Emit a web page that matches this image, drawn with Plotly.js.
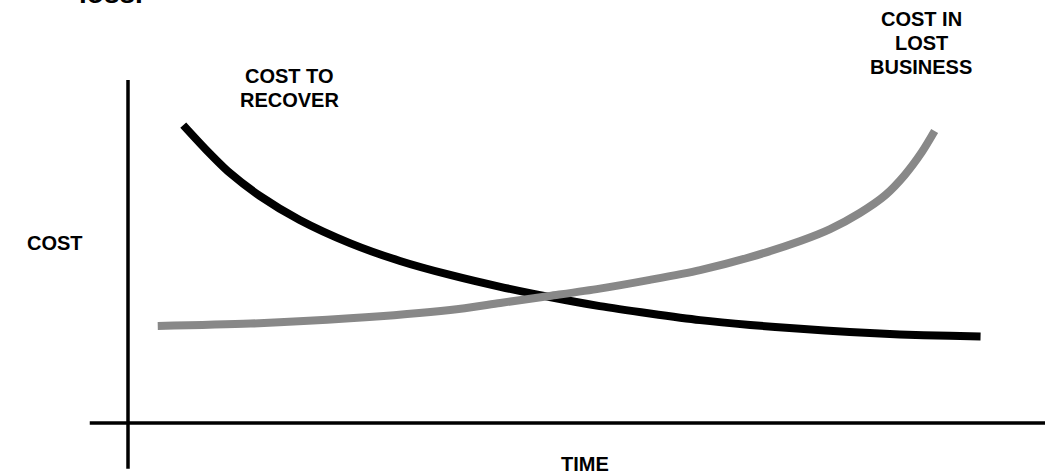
<!DOCTYPE html>
<html>
<head>
<meta charset="utf-8">
<script src="https://cdn.plot.ly/plotly-3.0.1.min.js"></script>
<style>html,body{margin:0;padding:0;background:#fff;}#chart{width:1045px;height:474px;}</style>
</head>
<body>
<div id="chart"></div>
<script>
// Conceptual curves (time units 0-100, cost units 0-100)
const timeRecover = [6.5, 9.1, 12.0, 15.5, 20.2, 26.1, 32.0, 37.9, 43.8, 49.6, 55.5, 61.4, 67.3, 73.2, 79.1, 84.9, 90.8, 96.7, 100.3];
const costRecover = [85.1, 78.3, 71.4, 64.9, 58.0, 51.4, 46.3, 42.3, 38.9, 36.0, 33.4, 31.3, 29.4, 28.0, 26.9, 26.0, 25.3, 24.9, 24.7];
const timeLost = [3.5, 14.4, 26.1, 37.9, 43.8, 49.6, 55.5, 61.4, 67.3, 73.2, 79.1, 82.6, 86.1, 89.1, 91.4, 93.4, 94.9];
const costLost = [27.7, 28.4, 29.9, 32.3, 34.3, 36.3, 38.4, 40.9, 43.7, 47.4, 52.0, 55.4, 60.0, 65.1, 70.9, 77.4, 83.4];
const labelRecover = ["COST TO", "RECOVER"];
const labelLost = ["COST IN", "LOST", "BUSINESS"];
const xLabel = "TIME";
const yLabel = "COST";
const topText = "loss.";

const font = {family: "Liberation Sans, Arial, sans-serif", size: 20, color: "#000"};
const W = 1045, H = 474;
function px(x){return x / W;}
function py(y){return 1 - y / H;}
function ann(text, x, y, size){
  return {text: "<b>" + text + "</b>", xref: "paper", yref: "paper", x: px(x), y: py(y),
    xanchor: "center", yanchor: "middle", showarrow: false,
    font: Object.assign({}, font, size ? {size: size} : {})};
}

const traces = [
  {x: timeRecover, y: costRecover, mode: "lines", line: {color: "#000", width: 8, shape: "spline", smoothing: 0.8}, hoverinfo: "skip"},
  {x: timeLost, y: costLost, mode: "lines", line: {color: "#888888", width: 8, shape: "spline", smoothing: 0.8}, hoverinfo: "skip"}
];

const annotations = [];
labelRecover.forEach((t, i) => annotations.push(ann(t, 289, 76 + i * 24)));
labelLost.forEach((t, i) => annotations.push(ann(t, 921, 19 + i * 24)));
annotations.push(ann(xLabel, 585, 464));
annotations.push(ann(yLabel, 55, 243));
annotations.push(ann(topText, 111, -6, 28));

const layout = {
  width: W, height: H,
  margin: {l: 0, r: 0, t: 0, b: 0, pad: 0},
  paper_bgcolor: "#fff", plot_bgcolor: "#fff",
  showlegend: false,
  xaxis: {range: [-128 / 8.5, 917 / 8.5], visible: false, fixedrange: true},
  yaxis: {range: [-51 / 3.5, 423 / 3.5], visible: false, fixedrange: true},
  shapes: [
    {type: "line", xref: "x", yref: "y", x0: 0, x1: 0, y0: -13.1, y1: 98, line: {color: "#000", width: 3.5}},
    {type: "line", xref: "x", yref: "y", x0: -4.5, x1: 108, y0: 0, y1: 0, line: {color: "#000", width: 3.5}}
  ],
  annotations: annotations
};

Plotly.newPlot("chart", traces, layout, {staticPlot: true, displayModeBar: false});
</script>
</body>
</html>
